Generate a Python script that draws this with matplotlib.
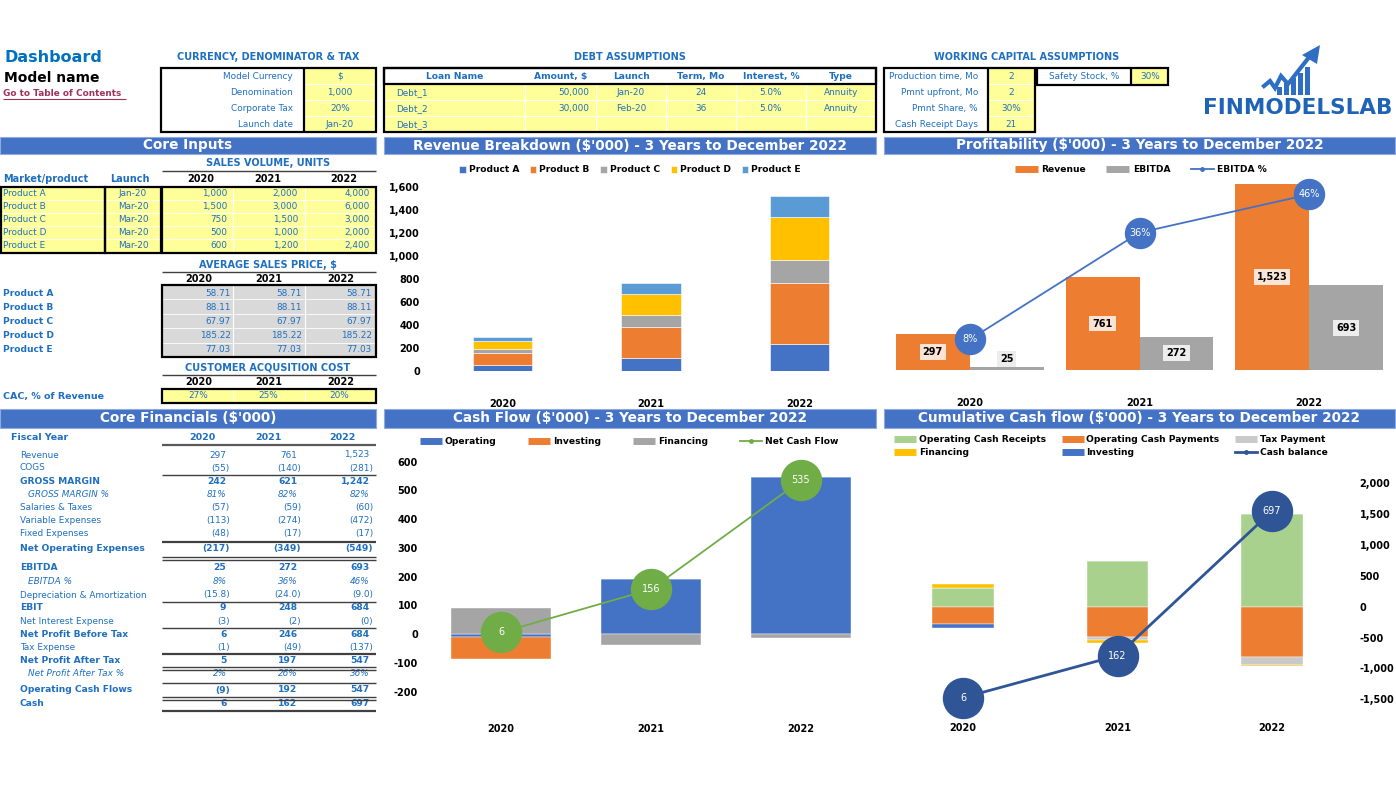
import numpy as np
import matplotlib
matplotlib.use('Agg')
import matplotlib.pyplot as plt
from matplotlib.patches import Rectangle, Polygon
from matplotlib.lines import Line2D
from matplotlib.ticker import StrMethodFormatter

plt.rcParams['font.family'] = ['DejaVu Sans']
plt.rcParams['axes.unicode_minus'] = False

W, H = 1396, 786

## ---- data ----
years = ['2020', '2021', '2022']
products = ['Product A', 'Product B', 'Product C', 'Product D', 'Product E']
launch = ['Jan-20', 'Mar-20', 'Mar-20', 'Mar-20', 'Mar-20']
volume = [[1000, 2000, 4000], [1500, 3000, 6000], [750, 1500, 3000],
          [500, 1000, 2000], [600, 1200, 2400]]
price = [[58.71, 58.71, 58.71], [88.11, 88.11, 88.11], [67.97, 67.97, 67.97],
         [185.22, 185.22, 185.22], [77.03, 77.03, 77.03]]
cac = [0.27, 0.25, 0.20]

currency_labels = ['Model Currency', 'Denomination', 'Corporate Tax', 'Launch date']
currency_values = ['$', '1,000', '20%', 'Jan-20']

debt_cols = ['Loan Name', 'Amount, $', 'Launch', 'Term, Mo', 'Interest, %', 'Type']
debt_rows = [['Debt_1', '50,000', 'Jan-20', '24', '5.0%', 'Annuity'],
             ['Debt_2', '30,000', 'Feb-20', '36', '5.0%', 'Annuity'],
             ['Debt_3', '', '', '', '', '']]

wc_labels = ['Production time, Mo', 'Pmnt upfront, Mo', 'Pmnt Share, %', 'Cash Receipt Days']
wc_values = ['2', '2', '30%', '21']
safety_label = 'Safety Stock, %'
safety_value = '30%'

# label, values, kind (n=normal, b=bold, i=italic %, d=one decimal)
fin_labels = ['Revenue', 'COGS', 'GROSS MARGIN', 'GROSS MARGIN %', 'Salaries & Taxes',
              'Variable Expenses', 'Fixed Expenses', 'Net Operating Expenses', 'EBITDA',
              'EBITDA %', 'Depreciation & Amortization', 'EBIT', 'Net Interest Expense',
              'Net Profit Before Tax', 'Tax Expense', 'Net Profit After Tax',
              'Net Profit After Tax %', 'Operating Cash Flows', 'Cash']
fin_values = [[297, 761, 1523], [-55, -140, -281], [242, 621, 1242], [0.81, 0.82, 0.82],
              [-57, -59, -60], [-113, -274, -472], [-48, -17, -17], [-217, -349, -549],
              [25, 272, 693], [0.08, 0.36, 0.46], [-15.8, -24.0, -9.0], [9, 248, 684],
              [-3, -2, -0.4], [6, 246, 684], [-1, -49, -137], [5, 197, 547],
              [0.02, 0.26, 0.36], [-9, 192, 547], [6, 162, 697]]
fin_kind = ['n', 'n', 'b', 'i', 'n', 'n', 'n', 'b', 'b', 'i', 'd', 'b', 'n', 'b', 'n', 'b',
            'i', 'b', 'b']

# revenue breakdown ($'000)
rev_a = [55, 117, 235]
rev_b = [100, 264, 529]
rev_c = [38, 102, 204]
rev_d = [69, 185, 370]
rev_e = [35, 93, 185]

# profitability
revenue = [297, 761, 1523]
ebitda = [25, 272, 693]
ebitda_pct = [0.08, 0.36, 0.46]

# cash flow
cf_operating = [-9, 192, 547]
cf_investing = [-77, 0, 0]
cf_financing = [92, -36, -12]
net_cash_flow = [6, 156, 535]

# cumulative cash flow
cum_receipts = [297, 745, 1495]
cum_payments = [-281, -486, -810]
cum_tax = [0, -60, -137]
cum_financing = [65, -36, -12]
cum_investing = [-65, 0, 0]
cash_balance = [6, 162, 697]

## ---- style ----
BLUE = '#1F6FC0'
HEAD_BG = '#4472C4'
YELLOW = '#FFFF99'
GRAYCELL = '#D9D9D9'
LINE = '#404040'
C_BLUE = '#4472C4'
C_ORANGE = '#ED7D31'
C_GRAY = '#A5A5A5'
C_YELLOW = '#FFC000'
C_LBLUE = '#5B9BD5'
C_GREEN = '#70AD47'
C_LGREEN = '#A9D18E'
C_DBLUE = '#2F5597'

fig = plt.figure(figsize=(W / 100, H / 100), dpi=100)
bg = fig.add_axes([0, 0, 1, 1])
bg.set_xlim(0, W)
bg.set_ylim(H, 0)
bg.axis('off')


def txt(x, y, s, size=6.4, color=BLUE, weight='normal', ha='left', style='normal'):
    bg.text(x, y, s, fontsize=size, color=color, fontweight=weight, ha=ha,
            va='center', fontstyle=style)


def box(x0, y0, x1, y1, fc='none', ec='none', lw=0.0, z=1):
    bg.add_patch(Rectangle((x0, y0), x1 - x0, y1 - y0, facecolor=fc,
                           edgecolor=ec, linewidth=lw, zorder=z))


def hline(y, x0=162, x1=376, lw=1.0, color=LINE):
    bg.plot([x0, x1], [y, y], color=color, lw=lw, solid_capstyle='butt', zorder=3)


def vline(x, y0, y1, lw=1.6, color='black'):
    bg.plot([x, x], [y0, y1], color=color, lw=lw, solid_capstyle='butt', zorder=3)


def header(x0, x1, y0, y1, s):
    box(x0, y0, x1, y1, fc=HEAD_BG, ec='#8FAADC', lw=0.8)
    txt((x0 + x1) / 2, (y0 + y1) / 2, s, size=9.8, color='white', weight='bold', ha='center')


def px_axes(x0, y0, x1, y1):
    a = fig.add_axes([x0 / W, 1 - y1 / H, (x1 - x0) / W, (y1 - y0) / H])
    a.patch.set_alpha(0)
    for s in a.spines.values():
        s.set_visible(False)
    return a


def fmt_num(v, kind):
    if kind == 'i':
        return '{:.0%}'.format(v)
    if kind == 'd':
        s = '{:.1f}'.format(abs(v))
    else:
        s = '{:,.0f}'.format(abs(v))
    return '(' + s + ')' if v < 0 else s


## ---- top left ----
txt(4, 58, 'Dashboard', size=11.5, color='#0070C0', weight='bold')
txt(4, 78, 'Model name', size=10, color='black', weight='bold')
txt(3, 93, 'Go to Table of Contents', size=6.4, color='#A0325A', weight='bold')
hline(99, 3, 126, lw=0.8, color='#A0325A')

# currency table
txt(268, 57, 'CURRENCY, DENOMINATOR & TAX', size=7, weight='bold', ha='center')
box(304, 68, 376, 132, fc=YELLOW)
for y in [84, 100, 116]:
    hline(y, 304, 376, lw=0.8, color='white')
for i, (lab, val) in enumerate(zip(currency_labels, currency_values)):
    y = 76.5 + 16 * i
    txt(293, y, lab, ha='right')
    txt(340, y, val, ha='center')
box(161, 68, 376, 132, ec='black', lw=1.6, z=4)
vline(304, 68, 132)

# debt table
txt(630, 57, 'DEBT ASSUMPTIONS', size=7, weight='bold', ha='center')
edges = [384, 525, 596, 666, 736, 806, 876]
box(384, 84, 876, 132, fc=YELLOW)
for y in [100, 116]:
    hline(y, 384, 876, lw=0.8, color='white')
for e in edges[1:-1]:
    vline(e, 84, 132, lw=0.8, color='white')
for j, c in enumerate(debt_cols):
    txt((edges[j] + edges[j + 1]) / 2, 76.5, c, size=6.6, weight='bold', ha='center')
for i, row in enumerate(debt_rows):
    y = 92.5 + 16 * i
    txt(396, y, row[0])
    txt(589, y, row[1], ha='right')
    for j in range(2, 6):
        txt((edges[j] + edges[j + 1]) / 2, y, row[j], ha='center')
box(384, 68, 876, 84, ec='black', lw=1.6, z=4)
box(384, 68, 876, 132, ec='black', lw=1.6, z=4)

# working capital table
txt(1027, 57, 'WORKING CAPITAL ASSUMPTIONS', size=7, weight='bold', ha='center')
box(988, 68, 1035, 132, fc=YELLOW)
for y in [84, 100, 116]:
    hline(y, 988, 1035, lw=0.8, color='white')
for i, (lab, val) in enumerate(zip(wc_labels, wc_values)):
    y = 76.5 + 16 * i
    txt(978, y, lab, ha='right')
    txt(1011, y, val, ha='center')
box(884, 68, 1035, 132, ec='black', lw=1.6, z=4)
vline(988, 68, 132)
box(1131, 68, 1168, 85, fc=YELLOW)
txt(1084, 76.5, safety_label, ha='center')
txt(1150, 76.5, safety_value, ha='center')
box(1037, 68, 1168, 85, ec='black', lw=1.6, z=4)
vline(1131, 68, 85)

# logo
logo_bars_x = [1277, 1284, 1291, 1298, 1305]
logo_bars_h = [8, 12, 17, 22, 28]
for bx, bh in zip(logo_bars_x, logo_bars_h):
    box(bx, 95 - bh, bx + 5, 95, fc='#2E6FC4')
bg.plot([1264, 1270, 1275, 1281, 1288, 1310], [86, 81, 88, 76, 84, 56],
        color='#2E6FC4', lw=3.0, solid_joinstyle='miter', zorder=3)
bg.add_patch(Polygon([[1302, 55], [1320, 45], [1317, 64]], closed=True,
                     facecolor='#2E6FC4', edgecolor='none', zorder=3))
txt(1298, 108, 'FINMODELSLAB', size=15.5, color='#1E63B5', weight='heavy', ha='center')

## ---- section headers ----
header(0, 376, 137, 154, 'Core Inputs')
header(384, 876, 137, 154, "Revenue Breakdown ($'000) - 3 Years to December 2022")
header(884, 1395, 137, 154, "Profitability ($'000) - 3 Years to December 2022")
header(0, 376, 409, 428, "Core Financials ($'000)")
header(384, 876, 409, 428, "Cash Flow ($'000) - 3 Years to December 2022")
header(884, 1395, 409, 428, "Cumulative Cash flow ($'000) - 3 Years to December 2022")

## ---- core inputs ----
year_cx = [201, 268, 344]
txt(268, 163, 'SALES VOLUME, UNITS', size=7, weight='bold', ha='center')
hline(170.5, lw=1.0)
txt(3, 179, 'Market/product', size=7, weight='bold')
txt(130, 179, 'Launch', size=7, weight='bold', ha='center')
for cx, yr in zip(year_cx, years):
    txt(cx, 179, yr, size=7, color='black', weight='bold', ha='center')
box(1, 187, 376, 252.5, fc=YELLOW)
for k in range(1, 5):
    hline(187 + 13.1 * k, 1, 376, lw=0.6, color='white')
for e in [233, 305]:
    vline(e, 187, 252.5, lw=0.8, color='white')
val_right = [227, 298, 370]
for i, p in enumerate(products):
    y = 193.5 + 13.1 * i
    txt(3, y, p)
    txt(133, y, launch[i], ha='center')
    for j in range(3):
        txt(val_right[j], y, '{:,}'.format(volume[i][j]), ha='right')
box(1, 187, 105, 252.5, ec='black', lw=1.6, z=4)
box(105, 187, 161, 252.5, ec='black', lw=1.6, z=4)
box(162, 187, 376, 252.5, ec='black', lw=1.6, z=4)

txt(268, 265, 'AVERAGE SALES PRICE, $', size=7, weight='bold', ha='center')
hline(272, lw=1.0)
for cx, yr in zip([199, 269, 341], years):
    txt(cx, 279, yr, size=7, color='black', weight='bold', ha='center')
box(162, 285, 376, 357, fc=GRAYCELL)
for k in range(1, 5):
    hline(285 + 14.4 * k, 162, 376, lw=0.6, color='white')
for e in [233, 305]:
    vline(e, 285, 357, lw=0.8, color='white')
for i, p in enumerate(products):
    y = 293 + 14.2 * i
    txt(3, y, p, size=6.6, weight='bold')
    for j in range(3):
        txt([231, 302, 372][j], y, '{:.2f}'.format(price[i][j]), ha='right')
box(162, 285, 376, 357, ec='black', lw=1.6, z=4)

txt(268, 368, 'CUSTOMER ACQUSITION COST', size=7, weight='bold', ha='center')
hline(375, lw=1.0)
for cx, yr in zip([199, 269, 341], years):
    txt(cx, 382, yr, size=7, color='black', weight='bold', ha='center')
txt(3, 396, 'CAC, % of Revenue', size=6.8, weight='bold')
box(162, 389, 376, 403, fc=YELLOW)
for e in [233, 305]:
    vline(e, 389, 403, lw=0.8, color='white')
for cx, v in zip([198, 268, 339], cac):
    txt(cx, 396, '{:.0%}'.format(v), ha='center')
box(162, 389, 376, 403, ec='black', lw=1.6, z=4)

## ---- core financials ----
txt(11, 438, 'Fiscal Year', size=6.8, weight='bold')
for cx, yr in zip([202, 268, 342], years):
    txt(cx, 438, yr, size=6.8, weight='bold', ha='center')
hline(444.5, lw=1.6, color='#595959')
fin_y = [455, 468, 481.5, 494.5, 507.5, 520.5, 533.5, 548.5, 567.5, 581, 595, 608,
         621.5, 634.5, 647.5, 660.5, 674, 690, 704]
neg_right = [230, 301, 373]
for lab, vals, kind, y in zip(fin_labels, fin_values, fin_kind, fin_y):
    weight = 'bold' if kind == 'b' else 'normal'
    style = 'italic' if kind == 'i' else 'normal'
    size = 6.6 if kind == 'b' else 6.4
    txt(28 if kind == 'i' else 20, y, lab, size=size, weight=weight, style=style)
    for j, v in enumerate(vals):
        r = neg_right[j] if v < 0 else neg_right[j] - 3.5
        txt(r, y, fmt_num(v, kind), size=size, weight=weight, style=style, ha='right')
# underlines of the statement
hline(474.5, lw=1.0)
hline(541.5, lw=1.6)
hline(556.5, lw=1.0)
hline(559.5, lw=1.0)
hline(602, lw=1.0)
hline(628, lw=1.0)
hline(654, lw=1.6)
hline(667, lw=1.0)
hline(670, lw=1.0)
hline(683, lw=1.0)
hline(697, lw=1.0)
hline(700, lw=1.0)
hline(711, lw=1.6)

## ---- revenue breakdown chart ----
x = np.arange(3)
ax = px_axes(428, 187, 874, 371)
bottom = np.zeros(3)
for name, vals, c in zip(products, [rev_a, rev_b, rev_c, rev_d, rev_e],
                         [C_BLUE, C_ORANGE, C_GRAY, C_YELLOW, C_LBLUE]):
    ax.bar(x, vals, 0.4, bottom=bottom, color=c, label=name,
           edgecolor='white', linewidth=0.4)
    bottom += np.array(vals)
ax.set_xlim(-0.5, 2.5)
ax.set_ylim(0, 1600)
ax.set_yticks(range(0, 1601, 200))
ax.yaxis.set_major_formatter(StrMethodFormatter('{x:,.0f}'))
ax.set_xticks(x, years)
ax.tick_params(axis='y', length=0, labelsize=7, pad=5.8)
ax.tick_params(axis='x', length=0, labelsize=7, pad=20)
for lab in ax.get_xticklabels() + ax.get_yticklabels():
    lab.set_fontweight('bold')
ax.legend(loc='center', bbox_to_anchor=(630 / W, 1 - 170 / H), bbox_transform=fig.transFigure,
          ncol=5, frameon=False, prop=dict(weight='bold', size=6.6), handlelength=0.7,
          handleheight=0.7, handletextpad=0.3, columnspacing=1.2, borderpad=0)

## ---- profitability chart ----
ax = px_axes(885, 174.6, 1394, 370)
bw = 0.436
ax.bar(x - bw / 2, revenue, bw, color=C_ORANGE)
ax.bar(x + bw / 2, ebitda, bw, color=C_GRAY)
for xi, v in zip(x, revenue):
    ax.text(xi - bw / 2, max(v / 2, 90), '{:,}'.format(v), ha='center', va='center',
            fontsize=7, fontweight='bold', color='black',
            bbox=dict(boxstyle='square,pad=0.3', fc='#FBE3D6', ec='none'))
for xi, v in zip(x, ebitda):
    ax.text(xi + bw / 2, max(v / 2, 90), '{:,}'.format(v), ha='center', va='center',
            fontsize=7, fontweight='bold', color='black',
            bbox=dict(boxstyle='square,pad=0.3', fc='#EDEDED', ec='none'))
ax.set_xlim(-0.5, 2.5)
ax.set_ylim(0, 1600)
ax.set_yticks([])
ax.set_xticks(x, years)
ax.tick_params(axis='x', length=0, labelsize=7, pad=20.5)
for lab in ax.get_xticklabels():
    lab.set_fontweight('bold')
ax2 = ax.twinx()
ax2.patch.set_alpha(0)
ax2.plot(x, ebitda_pct, color=C_BLUE, lw=1.3, marker='o', ms=21.6, mfc=C_BLUE,
         mec=C_BLUE, clip_on=False, zorder=5)
for xi, p in zip(x, ebitda_pct):
    ax2.text(xi, p, '{:.0%}'.format(p), ha='center', va='center', fontsize=7,
             color='white', zorder=6)
ax2.set_ylim(0, 0.512)
ax2.axis('off')
prof_handles = [Line2D([], [], color=C_ORANGE, lw=5, solid_capstyle='butt'),
                Line2D([], [], color=C_GRAY, lw=5, solid_capstyle='butt'),
                Line2D([], [], color=C_BLUE, lw=1.3, marker='o', ms=2.5)]
ax.legend(prof_handles, ['Revenue', 'EBITDA', 'EBITDA %'], loc='center',
          bbox_to_anchor=(1141 / W, 1 - 170 / H), bbox_transform=fig.transFigure,
          ncol=3, frameon=False, prop=dict(weight='bold', size=6.6), handlelength=2.5,
          handletextpad=0.4, columnspacing=2.2, borderpad=0)


def stack(a, series, colors, width):
    pos = np.zeros(3)
    neg = np.zeros(3)
    for vals, c in zip(series, colors):
        v = np.array(vals, dtype=float)
        b = np.where(v >= 0, pos, neg)
        a.bar(x, v, width, bottom=b, color=c, edgecolor='white', linewidth=0.3)
        pos += np.clip(v, 0, None)
        neg += np.clip(v, None, 0)


## ---- cash flow chart ----
ax = px_axes(426, 461.7, 876, 691.7)
stack(ax, [cf_operating, cf_investing, cf_financing], [C_BLUE, C_ORANGE, C_GRAY], 0.667)
ax.plot(x, net_cash_flow, color=C_GREEN, lw=1.3, marker='o', ms=28.8, mfc=C_GREEN,
        mec=C_GREEN, clip_on=False, zorder=5)
for xi, v in zip(x, net_cash_flow):
    ax.text(xi, v, str(v), ha='center', va='center', fontsize=7, color='white', zorder=6)
ax.set_xlim(-0.5, 2.5)
ax.set_ylim(-200, 600)
ax.set_yticks(range(-200, 601, 100))
ax.set_xticks(x, years)
ax.tick_params(axis='y', length=0, labelsize=7, pad=5.8)
ax.tick_params(axis='x', length=0, labelsize=7, pad=23)
for lab in ax.get_xticklabels() + ax.get_yticklabels():
    lab.set_fontweight('bold')
cf_handles = [Line2D([], [], color=C_BLUE, lw=5, solid_capstyle='butt'),
              Line2D([], [], color=C_ORANGE, lw=5, solid_capstyle='butt'),
              Line2D([], [], color=C_GRAY, lw=5, solid_capstyle='butt'),
              Line2D([], [], color=C_GREEN, lw=1.3, marker='o', ms=2.5)]
ax.legend(cf_handles, ['Operating', 'Investing', 'Financing', 'Net Cash Flow'],
          loc='center left', bbox_to_anchor=(420 / W, 1 - 449 / H, 418 / W, 14 / H),
          bbox_transform=fig.transFigure, mode='expand', ncol=4, frameon=False,
          prop=dict(weight='bold', size=6.6), handlelength=2.4, handletextpad=0.3,
          borderpad=0, borderaxespad=0)

## ---- cumulative cash flow chart ----
ax = px_axes(885.7, 483.3, 1349.3, 699.3)
stack(ax, [cum_receipts, cum_payments, cum_tax, cum_financing, cum_investing],
      [C_LGREEN, C_ORANGE, '#C9C9C9', C_YELLOW, C_BLUE], 0.4)
ax2 = ax.twinx()
ax2.patch.set_alpha(0)
ax2.plot(x, cash_balance, color=C_DBLUE, lw=2.0, marker='o', ms=28.8, mfc=C_DBLUE,
         mec=C_DBLUE, clip_on=False, zorder=5)
for xi, v in zip(x, cash_balance):
    ax2.text(xi, v, str(v), ha='center', va='center', fontsize=7, color='white', zorder=6)
ax2.set_ylim(0, 800)
ax2.axis('off')
ax.set_xlim(-0.5, 2.5)
ax.set_ylim(-1500, 2000)
ax.set_yticks(range(-1500, 2001, 500))
ax.yaxis.set_major_formatter(StrMethodFormatter('{x:,.0f}'))
ax.yaxis.tick_right()
ax.set_xticks(x, years)
ax.tick_params(axis='y', length=0, labelsize=7, pad=7.5)
ax.tick_params(axis='x', length=0, labelsize=7, pad=17)
for lab in ax.get_xticklabels() + ax.get_yticklabels():
    lab.set_fontweight('bold')
cum_handles = [Line2D([], [], color=C_LGREEN, lw=5, solid_capstyle='butt'),
               Line2D([], [], color=C_YELLOW, lw=5, solid_capstyle='butt'),
               Line2D([], [], color=C_ORANGE, lw=5, solid_capstyle='butt'),
               Line2D([], [], color=C_BLUE, lw=5, solid_capstyle='butt'),
               Line2D([], [], color='#C9C9C9', lw=5, solid_capstyle='butt'),
               Line2D([], [], color=C_DBLUE, lw=2.0, marker='o', ms=2.5)]
cum_names = ['Operating Cash Receipts', 'Financing', 'Operating Cash Payments', 'Investing',
             'Tax Payment', 'Cash balance']
ax.legend(cum_handles, cum_names, loc='center left',
          bbox_to_anchor=(894 / W, 1 - 461 / H, 434 / W, 30 / H),
          bbox_transform=fig.transFigure, mode='expand', ncol=3, frameon=False,
          prop=dict(weight='bold', size=6.6), handlelength=2.4, handletextpad=0.3,
          labelspacing=0.5, borderpad=0, borderaxespad=0)

fig.savefig('out.png', dpi=100)
